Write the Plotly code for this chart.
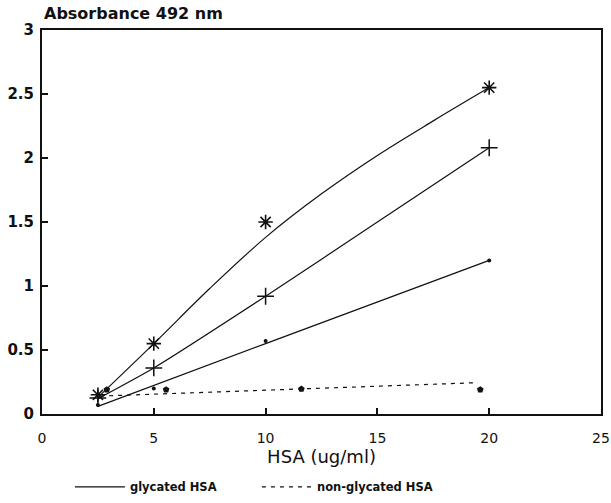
import plotly.graph_objects as go

# Measured points (glycated HSA, three series)
conc = [2.5, 5, 10, 20]
star_vals = [0.15, 0.55, 1.50, 2.55]
plus_vals = [0.125, 0.36, 0.92, 2.08]
dot_vals = [0.07, 0.20, 0.57, 1.20]

# Non-glycated HSA points
nonglyc_x = [2.9, 5.55, 11.6, 19.6]
nonglyc_y = [0.19, 0.19, 0.195, 0.19]

# Fitted curves
star_fit_x = [2.5, 5, 7.5, 10, 12.5, 15, 17.5, 20]
star_fit = [0.13, 0.55, 0.98, 1.38, 1.72, 2.02, 2.29, 2.55]
plus_fit_x = [2.5, 5, 10, 15, 20]
plus_fit = [0.12, 0.36, 0.92, 1.50, 2.08]
dot_fit_x = [2.5, 10, 20]
dot_fit = [0.06, 0.55, 1.20]
nonglyc_fit_x = [2.6, 19.5]
nonglyc_fit = [0.14, 0.245]

x_ticks = [0, 5, 10, 15, 20, 25]
y_ticks = [0, 0.5, 1, 1.5, 2, 2.5, 3]
y_tick_text = ["0", "0.5", "1", "1.5", "2", "2.5", "3"]

INK = "#111111"
FONT = "DejaVu Sans, Liberation Sans, sans-serif"

fig = go.Figure()

# fitted lines
fig.add_trace(go.Scatter(x=star_fit_x, y=star_fit, mode="lines",
                         line=dict(color=INK, width=1.2, shape="spline", smoothing=1.0),
                         name="glycated HSA", legendgroup="g", showlegend=True))
fig.add_trace(go.Scatter(x=plus_fit_x, y=plus_fit, mode="lines",
                         line=dict(color=INK, width=1.2, shape="spline", smoothing=0.6),
                         legendgroup="g", showlegend=False))
fig.add_trace(go.Scatter(x=dot_fit_x, y=dot_fit, mode="lines",
                         line=dict(color=INK, width=1.2, shape="spline", smoothing=0.6),
                         legendgroup="g", showlegend=False))
fig.add_trace(go.Scatter(x=nonglyc_fit_x, y=nonglyc_fit, mode="lines",
                         line=dict(color=INK, width=1.2, dash="4px,5px"),
                         name="non-glycated HSA", legendgroup="n", showlegend=True))

# markers
fig.add_trace(go.Scatter(x=conc, y=star_vals, mode="markers", showlegend=False,
                         marker=dict(symbol="asterisk-open", size=12, color=INK, line=dict(color=INK, width=1.6))))
fig.add_trace(go.Scatter(x=conc, y=plus_vals, mode="markers", showlegend=False,
                         marker=dict(symbol="cross-thin-open", size=12, color=INK, line=dict(color=INK, width=1.5))))
fig.add_trace(go.Scatter(x=conc, y=dot_vals, mode="markers", showlegend=False,
                         marker=dict(symbol="circle", size=4, color=INK)))
fig.add_trace(go.Scatter(x=nonglyc_x, y=nonglyc_y, mode="markers", showlegend=False,
                         marker=dict(symbol="pentagon", size=7, color=INK)))

fig.update_layout(
    width=611, height=503,
    margin=dict(l=42, r=10, t=30, b=89, autoexpand=False),
    paper_bgcolor="white", plot_bgcolor="white",
    font=dict(family=FONT, color=INK, size=14),
    legend=dict(orientation="h", x=0.05, xanchor="left", y=-0.19, yanchor="middle",
                font=dict(size=11.5, weight="bold"), entrywidth=122, entrywidthmode="pixels",
                itemwidth=50, bgcolor="rgba(0,0,0,0)"),
    annotations=[dict(text="Absorbance 492 nm", xref="paper", yref="paper", x=0.0, y=1.042,
                      xanchor="left", yanchor="middle", showarrow=False,
                      font=dict(size=16, weight="bold", family=FONT))],
)
fig.update_xaxes(range=[0, 25], tickvals=x_ticks, ticks="inside", ticklen=6, tickwidth=1.5, tickcolor=INK,
                 showline=True, linecolor=INK, linewidth=2, mirror=True, showgrid=False, zeroline=False,
                 tickfont=dict(size=14), ticklabelstandoff=10, automargin=False,
                 title=dict(text="HSA (ug/ml)", font=dict(size=18), standoff=0))
fig.update_yaxes(range=[0, 3], tickvals=y_ticks, ticktext=y_tick_text, ticks="inside", ticklen=6, tickwidth=1.5,
                 tickcolor=INK, showline=True, linecolor=INK, linewidth=2, mirror=True, showgrid=False,
                 zeroline=False, tickfont=dict(size=15, weight="bold"), ticklabelstandoff=3, automargin=False)

fig.write_html("out.html")
